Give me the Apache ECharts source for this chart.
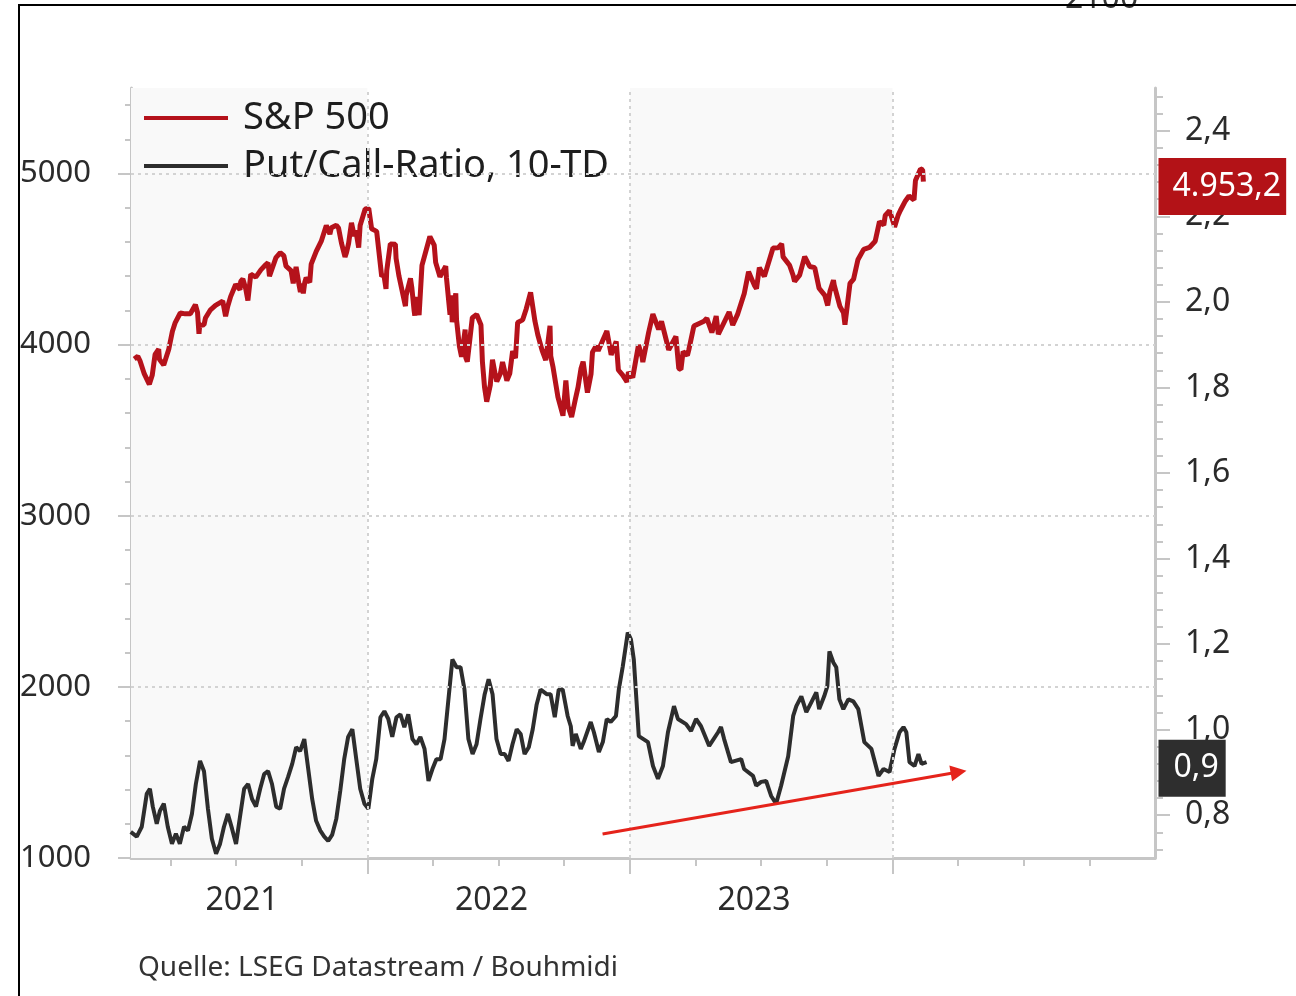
<!DOCTYPE html>
<html>
<head>
<meta charset="utf-8">
<title>S&amp;P 500 / Put-Call-Ratio</title>
<script src="https://cdn.jsdelivr.net/npm/echarts@6/dist/echarts.min.js"></script>
<style>
  html, body { margin: 0; padding: 0; background: #fff; }
  #chart { width: 1296px; height: 996px; }
</style>
</head>
<body>
<div id="chart"></div>
<script>
"use strict";

// S&P 500 (Schlusskurse, ausgewählte Tage)
const spxDates = [
  '2021-02-11','2021-02-16','2021-02-19','2021-02-25','2021-03-04','2021-03-08','2021-03-12','2021-03-17',
  '2021-03-18','2021-03-24','2021-03-31','2021-04-05','2021-04-09','2021-04-16','2021-04-23','2021-04-30',
  '2021-05-07','2021-05-10','2021-05-12','2021-05-13','2021-05-19','2021-05-21','2021-05-28','2021-06-04',
  '2021-06-11','2021-06-14','2021-06-18','2021-06-21','2021-06-25','2021-07-02','2021-07-08','2021-07-09',
  '2021-07-12','2021-07-16','2021-07-19','2021-07-23','2021-07-30','2021-08-06','2021-08-13','2021-08-16',
  '2021-08-18','2021-08-19','2021-08-27','2021-09-02','2021-09-07','2021-09-10','2021-09-17','2021-09-20',
  '2021-09-24','2021-09-28','2021-09-30','2021-10-01','2021-10-04','2021-10-06','2021-10-08','2021-10-13',
  '2021-10-15','2021-10-22','2021-10-29','2021-11-05','2021-11-10','2021-11-12','2021-11-19','2021-11-22',
  '2021-11-26','2021-12-01','2021-12-03','2021-12-06','2021-12-10','2021-12-14','2021-12-16','2021-12-20',
  '2021-12-22','2021-12-29','2022-01-03','2022-01-07','2022-01-14','2022-01-21','2022-01-24','2022-01-27',
  '2022-01-28','2022-02-02','2022-02-09','2022-02-10','2022-02-14','2022-02-23','2022-02-24','2022-03-02',
  '2022-03-04','2022-03-07','2022-03-08','2022-03-09','2022-03-14','2022-03-18','2022-03-29','2022-04-04',
  '2022-04-06','2022-04-12','2022-04-20','2022-04-21','2022-04-26','2022-04-28','2022-04-29','2022-05-04',
  '2022-05-05','2022-05-09','2022-05-12','2022-05-17','2022-05-18','2022-05-20','2022-05-27','2022-06-02',
  '2022-06-08','2022-06-10','2022-06-13','2022-06-16','2022-06-21','2022-06-24','2022-06-28','2022-06-30',
  '2022-07-05','2022-07-08','2022-07-14','2022-07-18','2022-07-22','2022-07-26','2022-07-29','2022-08-05',
  '2022-08-10','2022-08-16','2022-08-22','2022-08-26','2022-09-01','2022-09-06','2022-09-12','2022-09-13',
  '2022-09-16','2022-09-23','2022-09-30','2022-10-04','2022-10-07','2022-10-12','2022-10-17','2022-10-21',
  '2022-10-25','2022-10-28','2022-11-03','2022-11-08','2022-11-10','2022-11-15','2022-11-18','2022-11-30',
  '2022-12-01','2022-12-06','2022-12-13','2022-12-16','2022-12-22','2022-12-28','2022-12-30','2023-01-05',
  '2023-01-13','2023-01-18','2023-01-19','2023-01-27','2023-02-02','2023-02-10','2023-02-14','2023-02-24',
  '2023-03-06','2023-03-10','2023-03-13','2023-03-16','2023-03-22','2023-03-24','2023-03-31','2023-04-14',
  '2023-04-18','2023-04-25','2023-05-01','2023-05-04','2023-05-19','2023-05-24','2023-05-31','2023-06-09',
  '2023-06-15','2023-06-23','2023-06-26','2023-06-30','2023-07-07','2023-07-19','2023-07-26','2023-07-31',
  '2023-08-02','2023-08-11','2023-08-16','2023-08-18','2023-08-25','2023-09-01','2023-09-08','2023-09-15',
  '2023-09-21','2023-09-29','2023-10-03','2023-10-06','2023-10-11','2023-10-12','2023-10-20','2023-10-25',
  '2023-10-27','2023-11-03','2023-11-08','2023-11-14','2023-11-22','2023-11-30','2023-12-08','2023-12-14',
  '2023-12-20','2023-12-22','2023-12-28','2024-01-03','2024-01-04','2024-01-09','2024-01-12','2024-01-19',
  '2024-01-24','2024-01-31','2024-02-02','2024-02-09','2024-02-12','2024-02-13'
];
const spxValues = [
  3916, 3932, 3906, 3829, 3768, 3821, 3943, 3974,
  3915, 3881, 3973, 4077, 4129, 4185, 4180, 4181,
  4233, 4188, 4063, 4112, 4116, 4156, 4204, 4230,
  4247, 4255, 4166, 4224, 4281, 4352, 4321, 4370,
  4384, 4327, 4258, 4412, 4395, 4437, 4468, 4479,
  4400, 4406, 4509, 4537, 4520, 4459, 4433, 4358,
  4455, 4352, 4308, 4357, 4300, 4363, 4391, 4364,
  4471, 4545, 4605, 4697, 4646, 4683, 4698, 4682,
  4595, 4513, 4538, 4592, 4712, 4634, 4668, 4568,
  4696, 4793, 4796, 4677, 4662, 4398, 4410, 4326,
  4432, 4589, 4587, 4504, 4401, 4225, 4288, 4387,
  4329, 4201, 4170, 4278, 4173, 4463, 4632, 4582,
  4481, 4397, 4459, 4393, 4175, 4288, 4132, 4300,
  4147, 3991, 3930, 4088, 3923, 3901, 4158, 4177,
  4115, 3901, 3750, 3667, 3765, 3912, 3821, 3785,
  3831, 3899, 3790, 3831, 3962, 3921, 4130, 4145,
  4210, 4305, 4138, 4058, 3967, 3909, 4110, 3933,
  3873, 3693, 3585, 3791, 3640, 3577, 3677, 3752,
  3859, 3901, 3720, 3828, 3956, 3992, 3965, 4080,
  4076, 3941, 4019, 3852, 3822, 3783, 3839, 3808,
  3999, 3928, 3898, 4070, 4179, 4090, 4136, 3970,
  4048, 3861, 3855, 3960, 3937, 3971, 4109, 4137,
  4154, 4071, 4167, 4061, 4191, 4115, 4180, 4299,
  4426, 4348, 4328, 4450, 4399, 4565, 4566, 4589,
  4513, 4464, 4404, 4370, 4406, 4515, 4457, 4450,
  4330, 4288, 4229, 4309, 4377, 4349, 4224, 4186,
  4117, 4358, 4383, 4496, 4557, 4568, 4604, 4719,
  4699, 4755, 4783, 4705, 4688, 4757, 4784, 4840,
  4869, 4846, 4959, 5027, 5022, 4953.2
];

// Put/Call-Ratio, 10-Tage-Durchschnitt (Zeit in Dezimaljahren)
const pcrYears = [
  2021.099, 2021.122, 2021.141, 2021.160, 2021.172, 2021.183, 2021.198, 2021.210, 2021.225, 2021.240,
  2021.256, 2021.271, 2021.286, 2021.302, 2021.317, 2021.332, 2021.347, 2021.363, 2021.378, 2021.393,
  2021.408, 2021.424, 2021.439, 2021.454, 2021.469, 2021.485, 2021.500, 2021.515, 2021.531, 2021.546,
  2021.561, 2021.576, 2021.592, 2021.607, 2021.622, 2021.637, 2021.653, 2021.668, 2021.683, 2021.698,
  2021.714, 2021.729, 2021.744, 2021.760, 2021.775, 2021.790, 2021.805, 2021.821, 2021.836, 2021.851,
  2021.866, 2021.882, 2021.897, 2021.912, 2021.927, 2021.943, 2021.958, 2021.973, 2021.989, 2022.004,
  2022.019, 2022.034, 2022.050, 2022.065, 2022.080, 2022.095, 2022.111, 2022.126, 2022.141, 2022.156,
  2022.172, 2022.187, 2022.202, 2022.218, 2022.233, 2022.248, 2022.263, 2022.279, 2022.294, 2022.309,
  2022.324, 2022.340, 2022.355, 2022.370, 2022.385, 2022.401, 2022.416, 2022.431, 2022.447, 2022.462,
  2022.477, 2022.492, 2022.508, 2022.523, 2022.538, 2022.553, 2022.569, 2022.584, 2022.599, 2022.615,
  2022.630, 2022.645, 2022.660, 2022.683, 2022.698, 2022.714, 2022.729, 2022.744, 2022.763, 2022.775,
  2022.782, 2022.794, 2022.813, 2022.824, 2022.851, 2022.863, 2022.882, 2022.897, 2022.912, 2022.927,
  2022.947, 2022.958, 2022.973, 2022.992, 2023.004, 2023.015, 2023.034, 2023.069, 2023.088, 2023.107,
  2023.126, 2023.145, 2023.168, 2023.183, 2023.214, 2023.233, 2023.252, 2023.271, 2023.302, 2023.336,
  2023.347, 2023.359, 2023.385, 2023.424, 2023.435, 2023.469, 2023.481, 2023.500, 2023.519, 2023.538,
  2023.557, 2023.576, 2023.603, 2023.622, 2023.634, 2023.653, 2023.672, 2023.691, 2023.710, 2023.721,
  2023.740, 2023.752, 2023.760, 2023.775, 2023.786, 2023.798, 2023.813, 2023.832, 2023.851, 2023.870,
  2023.893, 2023.920, 2023.947, 2023.966, 2023.989, 2024.008, 2024.027, 2024.042, 2024.053, 2024.065,
  2024.084, 2024.099, 2024.111, 2024.130
];
const pcrValues = [
  0.761, 0.750, 0.773, 0.850, 0.862, 0.820, 0.780, 0.810, 0.827, 0.773,
  0.733, 0.757, 0.733, 0.773, 0.764, 0.803, 0.873, 0.927, 0.903, 0.815,
  0.745, 0.710, 0.733, 0.773, 0.803, 0.768, 0.733, 0.796, 0.862, 0.873,
  0.838, 0.820, 0.862, 0.896, 0.903, 0.873, 0.820, 0.815, 0.862, 0.889,
  0.920, 0.959, 0.950, 0.978, 0.908, 0.838, 0.787, 0.764, 0.750, 0.740,
  0.754, 0.792, 0.857, 0.931, 0.983, 1.001, 0.931, 0.862, 0.827, 0.815,
  0.885, 0.931, 1.029, 1.043, 1.025, 0.983, 1.029, 1.036, 1.006, 1.036,
  0.978, 0.966, 0.983, 0.955, 0.880, 0.908, 0.931, 0.931, 0.978, 1.071,
  1.164, 1.146, 1.146, 1.094, 0.978, 0.943, 0.966, 1.025, 1.083, 1.118,
  1.083, 0.978, 0.943, 0.943, 0.927, 0.966, 1.001, 0.990, 0.943, 0.959,
  1.001, 1.059, 1.094, 1.083, 1.083, 1.029, 1.094, 1.094, 1.032, 1.008,
  0.962, 0.990, 0.955, 0.971, 1.018, 0.994, 0.948, 0.971, 1.025, 1.018,
  1.032, 1.094, 1.148, 1.227, 1.211, 1.164, 0.985, 0.971, 0.915, 0.885,
  0.915, 0.994, 1.055, 1.025, 1.013, 0.997, 1.025, 1.008, 0.962, 0.994,
  1.006, 0.978, 0.924, 0.931, 0.908, 0.892, 0.869, 0.878, 0.880, 0.845,
  0.827, 0.869, 0.938, 1.032, 1.055, 1.078, 1.041, 1.064, 1.087, 1.048,
  1.078, 1.101, 1.183, 1.157, 1.146, 1.071, 1.048, 1.071, 1.066, 1.048,
  0.971, 0.955, 0.892, 0.908, 0.901, 0.955, 0.994, 1.006, 0.994, 0.924,
  0.915, 0.943, 0.920, 0.924
];

// Achsen
const yearLabels = [2021, 2022, 2023];
const yearLabelPos = [2021.523, 2022.473, 2023.473];
const yearTicks = [2022, 2023, 2024];
const spxTicks = [1000, 2000, 3000, 4000, 5000];
const pcrTicks = [0.8, 1.0, 1.2, 1.4, 1.6, 1.8, 2.0, 2.2, 2.4];
// Trendpfeil (Put/Call-Ratio-Skala)
const trendFrom = [2022.896, 0.756];
const trendTo = [2024.252, 0.901];

const X_MIN = 2021.1, X_MAX = 2025;
const FONT = 'Noto Sans';
const AXIS = '#c6c6c6';
const GRID = '#d3d3d3';
const TXT = '#2b2b2b';

function toYear(s) {
  const d = new Date(s + 'T00:00:00Z');
  const y = d.getUTCFullYear();
  return y + (d.getTime() - Date.UTC(y, 0, 1)) / 86400000 / 365;
}

// 4953.2 -> "4.953,2"
function fmtDe(v, dec) {
  const parts = v.toFixed(dec).split('.');
  const int = parts[0].replace(/\B(?=(\d{3})+(?!\d))/g, '.');
  return parts.length > 1 ? int + ',' + parts[1] : int;
}

const spxData = spxDates.map((d, i) => [toYear(d), spxValues[i]]);
const pcrData = pcrYears.map((t, i) => [t, pcrValues[i]]);
const lastSpx = spxValues[spxValues.length - 1];
const lastPcr = pcrValues[pcrValues.length - 1];

// Nebenstriche
const quarterTicks = [];
for (let y = 2021; y < 2025; y++) {
  [0.25, 0.5, 0.75].forEach(q => { if (y + q > X_MIN) quarterTicks.push(y + q); });
}
const spxMinor = [];
for (let v = 1200; v <= 5400; v += 200) { if (v % 1000) spxMinor.push(v); }
const pcrMinor = [];
for (let i = 18; i <= 62; i++) { pcrMinor.push(Math.round(i * 4) / 100); }

const chart = echarts.init(document.getElementById('chart'));

const option = {
  animation: false,
  backgroundColor: '#fff',
  textStyle: { fontFamily: FONT },
  grid: { left: 131, right: 141, top: 88, bottom: 138 },
  legend: {
    left: 144, top: 94, orient: 'vertical', padding: 0,
    icon: 'rect', itemWidth: 84, itemHeight: 4, itemGap: 0,
    selectedMode: false,
    textStyle: { fontSize: 38, color: '#1e1e1e', lineHeight: 36, padding: [0, 0, 12, 10] },
    data: ['S&P 500', 'Put/Call-Ratio, 10-TD']
  },
  xAxis: [
    {
      type: 'value', min: X_MIN, max: X_MAX,
      axisLine: { lineStyle: { color: AXIS, width: 3 } },
      axisTick: { customValues: yearTicks, length: 16, lineStyle: { color: AXIS, width: 2 } },
      axisLabel: {
        customValues: yearLabelPos,
        formatter: v => String(yearLabels[yearLabelPos.indexOf(v)] || Math.floor(v)),
        fontSize: 32, color: TXT, margin: 27
      },
      splitLine: { show: false }
    },
    {
      type: 'value', min: X_MIN, max: X_MAX, position: 'bottom',
      axisLine: { show: false },
      axisTick: { customValues: quarterTicks, length: 8, lineStyle: { color: AXIS, width: 2 } },
      axisLabel: { show: false },
      splitLine: { show: false }
    }
  ],
  yAxis: [
    {
      type: 'value', min: 1000, max: 5500, position: 'left',
      axisLine: { show: true, lineStyle: { color: AXIS, width: 3 } },
      axisTick: { show: true, customValues: spxTicks, length: 13, lineStyle: { color: AXIS, width: 2 } },
      axisLabel: { customValues: spxTicks, fontSize: 31, color: TXT, margin: 40, formatter: v => String(v) },
      splitLine: { show: false }
    },
    {
      type: 'value', min: 0.7, max: 2.5, position: 'right',
      axisLine: { show: true, lineStyle: { color: AXIS, width: 3 } },
      axisTick: { show: true, customValues: pcrTicks, length: 15, lineStyle: { color: AXIS, width: 2 } },
      axisLabel: {
        customValues: pcrTicks, fontSize: 32, color: TXT, margin: 30,
        formatter: v => fmtDe(v, 1)
      },
      splitLine: { show: false }
    },
    {
      type: 'value', min: 1000, max: 5500, position: 'left',
      axisLine: { show: false },
      axisTick: { show: true, customValues: spxMinor, length: 6, lineStyle: { color: AXIS, width: 2 } },
      axisLabel: { show: false },
      splitLine: { show: false }
    },
    {
      type: 'value', min: 0.7, max: 2.5, position: 'right',
      axisLine: { show: false },
      axisTick: { show: true, customValues: pcrMinor, length: 8, lineStyle: { color: AXIS, width: 2 } },
      axisLabel: { show: false },
      splitLine: { show: false }
    }
  ],
  series: [
    {
      // Hintergrund: Jahresschattierung und Gitterlinien
      type: 'line', data: [], z: -1, silent: true,
      xAxisIndex: 0, yAxisIndex: 0,
      markArea: {
        silent: true,
        itemStyle: { color: '#f9f9f9' },
        data: [
          [{ xAxis: X_MIN }, { xAxis: 2022 }],
          [{ xAxis: 2023 }, { xAxis: 2024 }]
        ]
      },
      markLine: {
        silent: true, symbol: 'none', label: { show: false },
        lineStyle: { color: GRID, width: 2, type: [3, 4] },
        data: spxTicks.slice(1).map(v => ({ yAxis: v }))
          .concat(yearTicks.map(y => ({ xAxis: y })))
      }
    },
    {
      name: 'S&P 500', type: 'line', data: spxData,
      xAxisIndex: 0, yAxisIndex: 0, z: 3,
      showSymbol: false, symbol: 'none',
      lineStyle: { color: '#b5121b', width: 5 },
      itemStyle: { color: '#b5121b' },
      markPoint: {
        silent: true, symbol: 'rect', symbolSize: 1,
        itemStyle: { color: 'rgba(0,0,0,0)' },
        label: {
          show: true, position: 'right', distance: 3, offset: [0, 5],
          formatter: fmtDe(lastSpx, 1),
          color: '#fff', fontSize: 32, lineHeight: 37,
          padding: [10, 5, 10, 14], backgroundColor: '#b31217'
        },
        data: [{ coord: [X_MAX, lastSpx] }]
      }
    },
    {
      name: 'Put/Call-Ratio, 10-TD', type: 'line', data: pcrData,
      xAxisIndex: 0, yAxisIndex: 1, z: 3,
      showSymbol: false, symbol: 'none',
      lineStyle: { color: '#2d2d2d', width: 4 },
      itemStyle: { color: '#2d2d2d' },
      markLine: {
        silent: true, symbol: ['none', 'triangle'], symbolSize: 16,
        label: { show: false },
        lineStyle: { color: '#e5231b', width: 3, type: 'solid' },
        data: [[{ coord: trendFrom }, { coord: trendTo }]]
      },
      markPoint: {
        silent: true, symbol: 'rect', symbolSize: 1,
        itemStyle: { color: 'rgba(0,0,0,0)' },
        label: {
          show: true, position: 'right', distance: 3, offset: [0, 6],
          formatter: fmtDe(lastPcr, 1),
          color: '#fff', fontSize: 32, lineHeight: 37,
          padding: [10, 7, 10, 15], backgroundColor: '#2e2e2e'
        },
        data: [{ coord: [X_MAX, lastPcr] }]
      }
    }
  ],
  graphic: [
    { type: 'text', x: 1065, y: -17, silent: true,
      style: { text: '2100', fontSize: 32, fontFamily: FONT, fill: '#333' } },
    { type: 'line', silent: true, shape: { x1: 18, y1: 5, x2: 1296, y2: 5 },
      style: { stroke: '#000', lineWidth: 2 } },
    { type: 'line', silent: true, shape: { x1: 19, y1: 4, x2: 19, y2: 996 },
      style: { stroke: '#000', lineWidth: 2 } },
    { type: 'text', x: 138, y: 954, silent: true,
      style: { text: 'Quelle: LSEG Datastream / Bouhmidi', fontSize: 28, fontFamily: FONT, fill: '#333' } }
  ]
};

chart.setOption(option);
</script>
</body>
</html>
